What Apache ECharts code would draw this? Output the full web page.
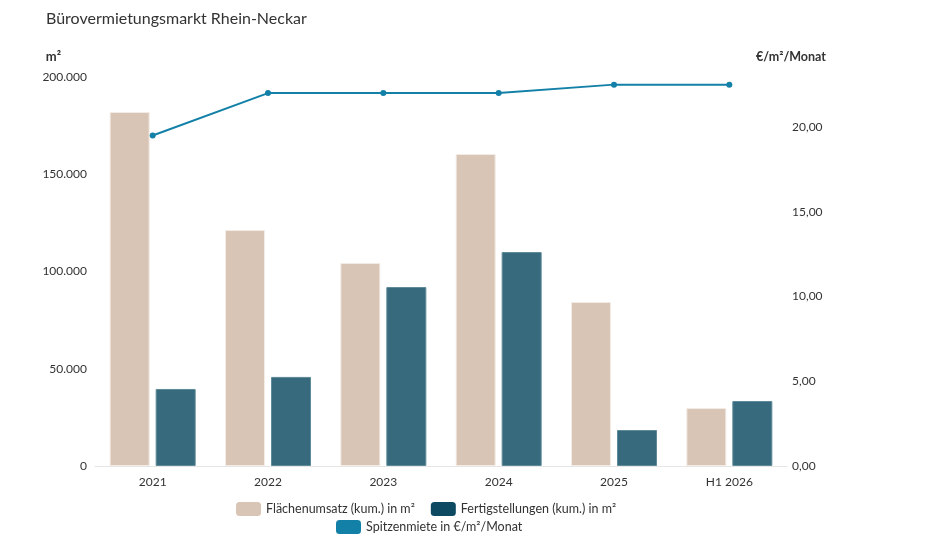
<!DOCTYPE html>
<html>
<head>
<meta charset="utf-8">
<script src="https://cdn.jsdelivr.net/npm/echarts@6/dist/echarts.min.js"></script>
<style>
  html, body { margin: 0; padding: 0; background: #fff; }
  #chart { width: 936px; height: 549px; }
</style>
</head>
<body>
<div id="chart"></div>
<script>
const categories = ["2021", "2022", "2023", "2024", "2025", "H1 2026"];
const flaechenumsatz = [182000, 121300, 104400, 160400, 84300, 29800];
const fertigstellungen = [39600, 45800, 92000, 110000, 18500, 33400];
const spitzenmiete = [19.5, 22.0, 22.0, 22.0, 22.5, 22.5];

const font = "Lato, 'Noto Sans', sans-serif";

function fmtThousands(v) {
  return String(v).replace(/\B(?=(\d{3})+(?!\d))/g, ".");
}

const chart = echarts.init(document.getElementById("chart"));
chart.setOption({
  textStyle: { fontFamily: font },
  title: {
    text: "Bürovermietungsmarkt Rhein-Neckar",
    left: 41,
    top: 6,
    textStyle: { fontSize: 16, fontWeight: "normal", color: "#333", fontFamily: font },
  },
  grid: {
    left: 95,
    right: 149,
    top: 77,
    bottom: 83,
  },
  legend: [
    {
      data: [
        { name: "Flächenumsatz (kum.) in m²" },
        { name: "Fertigstellungen (kum.) in m²", itemStyle: { color: "#0d4a62" } },
      ],
      left: 231,
      top: 497,
      itemWidth: 25,
      itemHeight: 14,
      itemGap: 16,
      icon: "roundRect",
      itemStyle: { borderWidth: 0 },
      textStyle: { fontSize: 12.5, color: "#333", fontFamily: font },
    },
    {
      data: ["Spitzenmiete in €/m²/Monat"],
      left: 331,
      top: 515,
      itemWidth: 25,
      itemHeight: 14,
      icon: "roundRect",
      itemStyle: { borderWidth: 0 },
      lineStyle: { width: 0 },
      textStyle: { fontSize: 12.5, color: "#333", fontFamily: font },
    },
  ],
  xAxis: {
    type: "category",
    data: categories,
    axisLine: { lineStyle: { color: "#e6e6e6" } },
    axisTick: { show: false },
    axisLabel: { color: "#333", fontSize: 12, margin: 10 },
  },
  yAxis: [
    {
      type: "value",
      min: 0,
      max: 200000,
      interval: 50000,
      name: "m²",
      nameGap: 14,
      nameTextStyle: { align: "right", padding: [0, 34, 0, 0], fontWeight: "bold", color: "#333", fontSize: 13 },
      axisLabel: { color: "#333", fontSize: 12, margin: 8, formatter: fmtThousands },
      splitLine: { show: false },
      axisLine: { show: false },
      axisTick: { show: false },
    },
    {
      type: "value",
      min: 0,
      max: 22.95,
      interval: 5,
      name: "€/m²/Monat",
      nameGap: 14,
      nameTextStyle: { align: "center", padding: [0, 0, 0, 8], fontWeight: "bold", color: "#333", fontSize: 12.5 },
      axisLabel: {
        color: "#333",
        fontSize: 12,
        margin: 5,
        showMaxLabel: false,
        formatter: (v) => v.toFixed(2).replace(".", ","),
      },
      splitLine: { show: false },
      axisLine: { show: false },
      axisTick: { show: false },
    },
  ],
  series: [
    {
      name: "Flächenumsatz (kum.) in m²",
      type: "bar",
      data: flaechenumsatz,
      barWidth: 40,
      barGap: "15%",
      itemStyle: { color: "#d9c5b5", borderColor: "#f3ece6", borderWidth: 1 },
    },
    {
      name: "Fertigstellungen (kum.) in m²",
      type: "bar",
      data: fertigstellungen,
      barWidth: 40,
      itemStyle: { color: "#366a7c", borderColor: "#5f8a99", borderWidth: 1 },
    },
    {
      name: "Spitzenmiete in €/m²/Monat",
      type: "line",
      yAxisIndex: 1,
      data: spitzenmiete,
      symbol: "circle",
      symbolSize: 6,
      lineStyle: { color: "#1380a8", width: 2 },
      itemStyle: { color: "#1380a8" },
      z: 5,
    },
  ],
});
</script>
</body>
</html>
